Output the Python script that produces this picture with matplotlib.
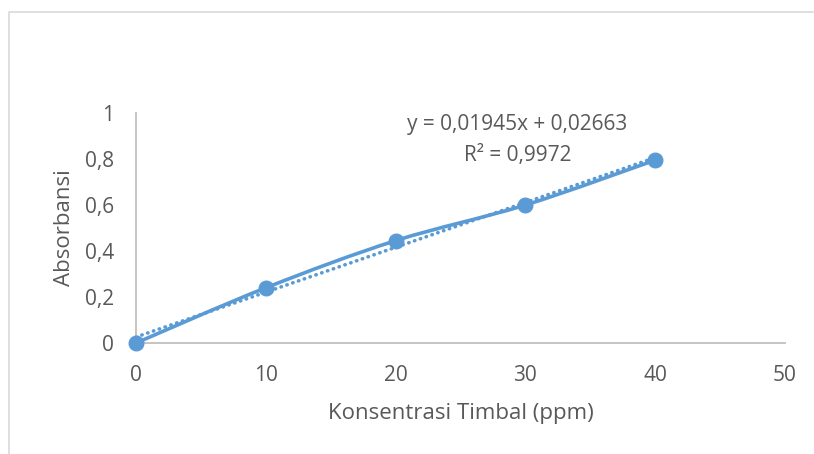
import numpy as np
import matplotlib
matplotlib.use("Agg")
import matplotlib.pyplot as plt
from matplotlib.path import Path
from matplotlib.patches import PathPatch
from matplotlib.lines import Line2D

# data
konsentrasi = [0, 10, 20, 30, 40]
absorbansi = [0.0, 0.24, 0.445, 0.60, 0.795]
x_ticks = [0, 10, 20, 30, 40, 50]
x_labels = ["0", "10", "20", "30", "40", "50"]
y_ticks = [0, 0.2, 0.4, 0.6, 0.8, 1.0]
y_labels = ["0", "0,2", "0,4", "0,6", "0,8", "1"]
eq_text = "y = 0,01945x + 0,02663"
r2_text = "R² = 0,9972"

BLUE = "#5B9BD5"
TXT = "#595959"
AX = "#BFBFBF"

plt.rcParams["font.family"] = ["Open Sans", "DejaVu Sans"]

fig = plt.figure(figsize=(8.14, 4.54), dpi=100)
ax = fig.add_axes([136 / 814, 1 - 343 / 454, (785 - 136) / 814, (343 - 113) / 454])

# outer chart frame (light gray)
fig.add_artist(Line2D([9 / 814, 9 / 814, 813 / 814], [0, 1 - 12 / 454, 1 - 12 / 454],
                      transform=fig.transFigure, color="#D9D9D9", lw=1.2))

ax.set_xlim(0, 50)
ax.set_ylim(0, 1)
for s in ["top", "right"]:
    ax.spines[s].set_visible(False)
for s in ["left", "bottom"]:
    ax.spines[s].set_color(AX)
    ax.spines[s].set_linewidth(1.3)

ax.set_xticks(x_ticks)
ax.set_xticklabels(x_labels)
ax.set_yticks(y_ticks)
ax.set_yticklabels(y_labels)
ax.tick_params(length=0, labelsize=15, colors=TXT)
ax.tick_params(axis="x", pad=16)
ax.tick_params(axis="y", pad=16)

ax.set_xlabel("Konsentrasi Timbal (ppm)", fontsize=16, color=TXT, labelpad=12)
ax.set_ylabel("Absorbansi", fontsize=16, color=TXT, labelpad=7)

# smoothed line like Excel (cardinal spline as bezier segments)
pts = np.column_stack([konsentrasi, absorbansi]).astype(float)
verts = [tuple(pts[0])]
codes = [Path.MOVETO]
n = len(pts)
for i in range(n - 1):
    p0 = pts[i - 1] if i > 0 else pts[i]
    p1 = pts[i]
    p2 = pts[i + 1]
    p3 = pts[i + 2] if i + 2 < n else pts[i + 1]
    c1 = p1 + (p2 - p0) / 6
    c2 = p2 - (p3 - p1) / 6
    verts += [tuple(c1), tuple(c2), tuple(p2)]
    codes += [Path.CURVE4] * 3
ax.add_patch(PathPatch(Path(verts, codes), fill=False, edgecolor=BLUE, lw=2.6,
                       transform=ax.transData, clip_on=False, zorder=3))

# linear trendline
k, b = np.polyfit(konsentrasi, absorbansi, 1)
xt = np.array([konsentrasi[0], konsentrasi[-1]])
ax.plot(xt, k * xt + b, linestyle=(0, (0.1, 1.6)), dash_capstyle="round",
        color=BLUE, lw=2.6, clip_on=False, zorder=2)

ax.plot(konsentrasi, absorbansi, "o", color=BLUE, ms=10.5, clip_on=False, zorder=4)

ax.text(29.4, 0.948, eq_text, ha="center", va="center", fontsize=15, color=TXT)
ax.text(29.4, 0.817, r2_text, ha="center", va="center", fontsize=15, color=TXT)

fig.savefig("out.png", dpi=100)
